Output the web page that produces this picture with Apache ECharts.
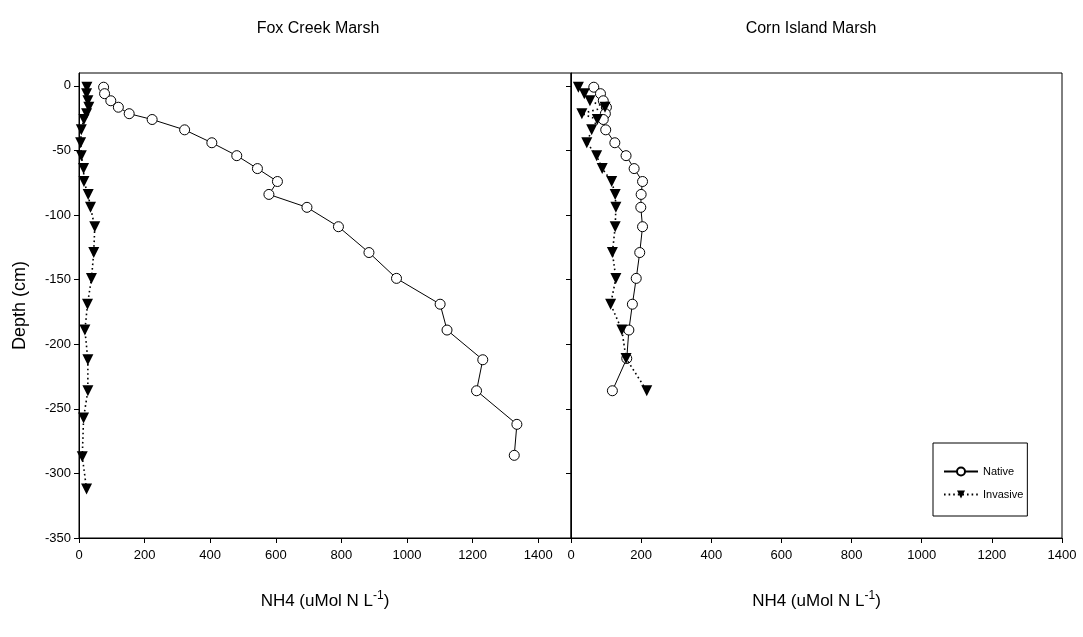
<!DOCTYPE html>
<html>
<head>
<meta charset="utf-8">
<script src="https://cdn.jsdelivr.net/npm/echarts@6/dist/echarts.min.js"></script>
<style>
  html, body { margin: 0; padding: 0; background: #fff; }
  #chart { width: 1083px; height: 637px; }
</style>
</head>
<body>
<div id="chart"></div>
<script>
// NH4 porewater profiles by depth, two marshes
const panelTitles = ['Fox Creek Marsh', 'Corn Island Marsh'];
const seriesNames = ['Native', 'Invasive'];

// Fox Creek Marsh
const foxNativeDepth = [-1, -6, -11.5, -16.5, -21.5, -26, -34, -44, -54, -64, -74, -84, -94, -109, -129, -149, -169, -189, -212, -236, -262, -286];
const foxNativeNH4   = [75, 78, 97, 120, 153, 223, 322, 405, 481, 544, 605, 579, 695, 791, 884, 968, 1101, 1122, 1231, 1212, 1335, 1327];
const foxInvasiveDepth = [-1, -6, -11.5, -16.5, -21.5, -26, -34, -44, -54, -64, -74, -84, -94, -109, -129, -149, -169, -189, -212, -236, -257, -287, -312];
const foxInvasiveNH4   = [24, 23, 27, 30, 23, 15, 7, 5, 7, 14, 15, 28, 35, 48, 45, 38, 26, 18, 27, 27, 14, 10, 23];

// Corn Island Marsh
const cornNativeDepth = [-1, -6, -11.5, -16.5, -21.5, -26, -34, -44, -54, -64, -74, -84, -94, -109, -129, -149, -169, -189, -211, -236];
const cornNativeNH4   = [65, 84, 92, 101, 98, 92, 99, 125, 157, 180, 204, 200, 199, 204, 196, 186, 175, 165, 159, 118];
const cornInvasiveDepth = [-1, -6, -11.5, -16.5, -21.5, -26, -34, -44, -54, -64, -74, -84, -94, -109, -129, -149, -169, -189, -211, -236];
const cornInvasiveNH4   = [21, 38, 54, 97, 31, 75, 59, 45, 73, 89, 116, 126, 128, 126, 118, 128, 113, 145, 157, 216];

// Axis ticks
const xTicks = [0, 200, 400, 600, 800, 1000, 1200, 1400];
const yTicks = [-350, -300, -250, -200, -150, -100, -50, 0];

const font = "'Liberation Sans', Arial, sans-serif";

const pairs = (xs, ys) => xs.map((v, i) => [v, ys[i]]);

const nameRich = {
  a: { fontFamily: font, fontSize: 17, color: '#000' },
  s: { fontFamily: font, fontSize: 12, color: '#000', verticalAlign: 'top', padding: [0, 0, 10, 0] }
};
const xName = '{a|NH4 (uMol N L}{s|-1}{a|)}';

function xAxis(gridIndex, max) {
  return {
    type: 'value', gridIndex, min: 0, max,
    interval: 200,
    name: xName, nameLocation: 'middle', nameGap: 52,
    nameTextStyle: { rich: nameRich },
    axisLine: { show: true, onZero: false, lineStyle: { color: '#000', width: 1 } },
    axisTick: { show: true, inside: false, length: 5, customValues: xTicks, lineStyle: { color: '#000' } },
    axisLabel: { show: true, customValues: xTicks, margin: 11, color: '#000', fontFamily: font, fontSize: 13,
                 formatter: v => String(v) },
    splitLine: { show: false }
  };
}
function yAxis(gridIndex, labels) {
  return {
    type: 'value', gridIndex, min: -350, max: 10, interval: 50,
    name: labels ? 'Depth (cm)' : '', nameLocation: 'middle', nameGap: 50,
    nameTextStyle: { fontFamily: font, fontSize: 18, color: '#000' },
    axisLine: { show: true, onZero: false, lineStyle: { color: '#000', width: 1 } },
    axisTick: { show: true, inside: false, length: 5, customValues: yTicks, lineStyle: { color: '#000' } },
    axisLabel: { show: labels, customValues: yTicks, margin: 8, color: '#000', fontFamily: font, fontSize: 13,
                 formatter: v => String(v) },
    splitLine: { show: false }
  };
}

const nativeStyle = {
  type: 'line', symbol: 'circle', symbolSize: 10,
  itemStyle: { color: '#fff', borderColor: '#000', borderWidth: 1 },
  lineStyle: { color: '#000', width: 1, type: 'solid' },
  emphasis: { disabled: true }, animation: false, z: 2
};
const invasiveStyle = {
  type: 'line', symbol: 'triangle', symbolRotate: 180, symbolSize: [11, 11],
  itemStyle: { color: '#000', borderColor: '#000', borderWidth: 0 },
  lineStyle: { color: '#000', width: 1.6, type: [1.6, 3] },
  emphasis: { disabled: true }, animation: false, z: 3
};

const chart = echarts.init(document.getElementById('chart'), null, { renderer: 'canvas' });
chart.setOption({
  animation: false,
  backgroundColor: '#fff',
  title: [
    { text: panelTitles[0], left: 313, top: 16, textAlign: 'center',
      textStyle: { fontFamily: font, fontSize: 16, fontWeight: 'normal', color: '#000' } },
    { text: panelTitles[1], left: 806, top: 16, textAlign: 'center',
      textStyle: { fontFamily: font, fontSize: 16, fontWeight: 'normal', color: '#000' } }
  ],
  grid: [
    { left: 79, right: 512, top: 73, bottom: 99, show: true, borderColor: '#000', borderWidth: 1, backgroundColor: 'transparent' },
    { left: 571, right: 21, top: 73, bottom: 99, show: true, borderColor: '#000', borderWidth: 1, backgroundColor: 'transparent' }
  ],
  xAxis: [xAxis(0, 1500), xAxis(1, 1400)],
  yAxis: [yAxis(0, true), yAxis(1, false)],
  legend: {
    data: seriesNames,
    orient: 'vertical',
    left: 933, top: 443,
    padding: [23, 4, 16, 10],
    itemGap: 12,
    itemWidth: 34, itemHeight: 10,
    backgroundColor: '#fff',
    borderColor: '#000', borderWidth: 1,
    textStyle: { fontFamily: font, fontSize: 11, color: '#000' },
    selectedMode: false
  },
  series: [
    Object.assign({ name: seriesNames[0], xAxisIndex: 0, yAxisIndex: 0, data: pairs(foxNativeNH4, foxNativeDepth) }, nativeStyle),
    Object.assign({ name: seriesNames[1], xAxisIndex: 0, yAxisIndex: 0, data: pairs(foxInvasiveNH4, foxInvasiveDepth) }, invasiveStyle),
    Object.assign({ name: seriesNames[0], xAxisIndex: 1, yAxisIndex: 1, data: pairs(cornNativeNH4, cornNativeDepth) }, nativeStyle),
    Object.assign({ name: seriesNames[1], xAxisIndex: 1, yAxisIndex: 1, data: pairs(cornInvasiveNH4, cornInvasiveDepth) }, invasiveStyle)
  ]
});
</script>
</body>
</html>
